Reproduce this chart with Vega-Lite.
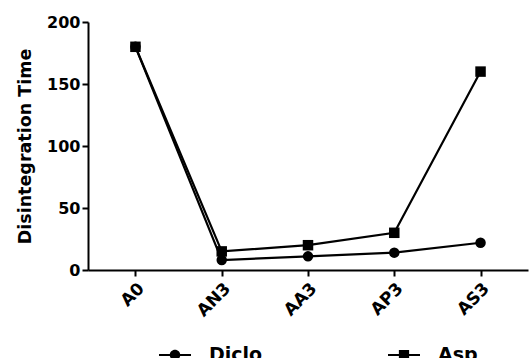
{
  "$schema": "https://vega.github.io/schema/vega-lite/v6.json",
  "width": 440,
  "height": 248,
  "autosize": {"type": "none"},
  "padding": {"left": 88, "top": 22, "right": 2, "bottom": 88},
  "background": "white",
  "config": {
    "view": {"stroke": null},
    "font": "DejaVu Sans",
    "axis": {"domainColor": "black", "domainWidth": 2, "tickColor": "black", "tickWidth": 2, "tickSize": 6, "labelColor": "black", "labelFont": "DejaVu Sans", "labelFontWeight": "bold", "labelFontSize": 16, "grid": false, "titleColor": "black", "titleFont": "DejaVu Sans", "titleFontWeight": "bold", "titleFontSize": 17.5}
  },
  "data": {
    "values": [
      {"cat": "A0", "series": "Diclo", "value": 180},
      {"cat": "AN3", "series": "Diclo", "value": 8},
      {"cat": "AA3", "series": "Diclo", "value": 11},
      {"cat": "AP3", "series": "Diclo", "value": 14},
      {"cat": "AS3", "series": "Diclo", "value": 22},
      {"cat": "A0", "series": "Asp", "value": 180},
      {"cat": "AN3", "series": "Asp", "value": 15},
      {"cat": "AA3", "series": "Asp", "value": 20},
      {"cat": "AP3", "series": "Asp", "value": 30},
      {"cat": "AS3", "series": "Asp", "value": 160}
    ]
  },
  "encoding": {
    "x": {"field": "cat", "type": "ordinal", "sort": ["A0", "AN3", "AA3", "AP3", "AS3"], "scale": {"type": "point", "padding": 0.55}, "axis": {"title": null, "labelAngle": -45, "labelPadding": 4, "labelFontSize": 17}},
    "y": {"field": "value", "type": "quantitative", "scale": {"domain": [0, 200], "nice": false}, "axis": {"title": "Disintegration Time", "values": [0, 50, 100, 150, 200], "labelPadding": 2, "titlePadding": 12}}
  },
  "layer": [
    {
      "mark": {"type": "line", "color": "black", "strokeWidth": 2.2},
      "encoding": {"detail": {"field": "series"}}
    },
    {
      "mark": {"type": "point", "filled": true, "color": "black", "opacity": 1},
      "encoding": {
        "shape": {"condition": {"test": "datum.series === 'Diclo'", "value": "circle"}, "value": "square"},
        "size": {"value": 110}
      }
    },
    {
      "mark": {"type": "point", "filled": true, "color": "black", "opacity": 0},
      "encoding": {
        "shape": {
          "field": "series",
          "type": "nominal",
          "scale": {"domain": ["Diclo", "Asp"], "range": ["M-1,-0.065L-0.3,-0.065L-0.3,0.065L-1,0.065Z M0.3,-0.065L1,-0.065L1,0.065L0.3,0.065Z M-0.33,0A0.33,0.33 0 1,1 0.33,0A0.33,0.33 0 1,1 -0.33,0Z", "M-1,-0.065L-0.3,-0.065L-0.3,0.065L-1,0.065Z M0.3,-0.065L1,-0.065L1,0.065L0.3,0.065Z M-0.32,-0.32L0.32,-0.32L0.32,0.32L-0.32,0.32Z"]},
          "legend": {
            "title": null,
            "orient": "none",
            "direction": "horizontal",
            "legendX": 70,
            "legendY": 316,
            "columns": 2,
            "columnPadding": 122,
            "symbolSize": 1024,
            "symbolOpacity": 1,
            "symbolFillColor": "black",
            "symbolStrokeColor": "black",
            "labelFont": "DejaVu Sans",
            "labelFontSize": 19,
            "labelFontWeight": "bold",
            "labelColor": "black",
            "labelOffset": 17
          }
        },
        "size": {"value": 10}
      }
    }
  ]
}
